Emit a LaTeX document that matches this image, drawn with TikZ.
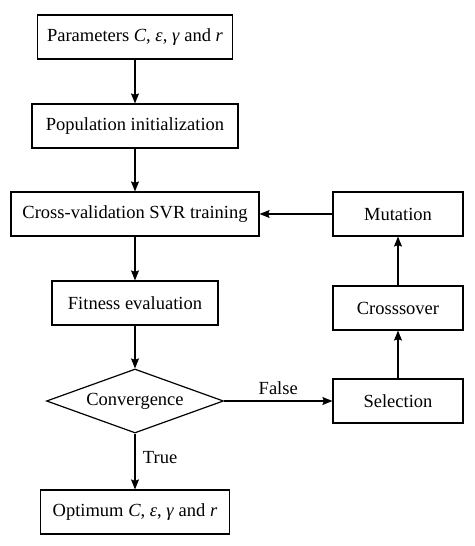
\documentclass[tikz,border=0pt]{standalone}
\usepackage{fontspec}
\setmainfont{Liberation Serif}
\usetikzlibrary{shapes.geometric,arrows.meta}
\begin{document}
\begin{tikzpicture}[x=1pt,y=1pt,
  box/.style={draw,line width=1.2pt,minimum height=44pt,inner sep=0pt,font=\fontsize{18.5}{20}\selectfont},
  dec/.style={draw,diamond,line width=1.2pt,minimum width=177pt,minimum height=64pt,aspect=2.77,inner sep=0pt,font=\fontsize{18.5}{20}\selectfont},
  arr/.style={line width=1.2pt,-{Stealth[length=10pt,width=8pt,inset=1.5pt]}},
  lbl/.style={font=\fontsize{18.5}{20}\selectfont}]
\useasboundingbox (0,0) rectangle (474,546);
\node[box,minimum width=195pt] (par) at (135,509) {Parameters \textit{C}, \textit{ε}, \textit{γ} and \textit{r}};
\node[box,minimum width=206pt] (pop) at (135,420) {Population initialization};
\node[box,minimum width=248pt] (cv) at (135,332) {Cross-validation SVR training};
\node[box,minimum width=130pt] (mut) at (398,332) {Mutation};
\node[box,minimum width=166pt] (fit) at (135,243) {Fitness evaluation};
\node[box,minimum width=130pt] (cro) at (398,238) {Crosssover};
\node[dec] (conv) at (135,145) {Convergence};
\node[box,minimum width=130pt] (sel) at (398,145) {Selection};
\node[box,minimum width=189pt] (opt) at (135,34) {Optimum \textit{C}, \textit{ε}, \textit{γ} and \textit{r}};
\draw[arr] (par) -- (pop);
\draw[arr] (pop) -- (cv);
\draw[arr] (cv) -- (fit);
\draw[arr] (fit) -- (conv);
\draw[arr] (conv) -- node[lbl,right,pos=0.42,xshift=4pt] (t) {True} (opt);
\draw[arr] (conv) -- node[lbl,above,pos=0.5,yshift=2pt] (f) {False} (sel);
\draw[arr] (sel) -- (cro);
\draw[arr] (cro) -- (mut);
\draw[arr] (mut) -- (cv);
\end{tikzpicture}
\end{document}
